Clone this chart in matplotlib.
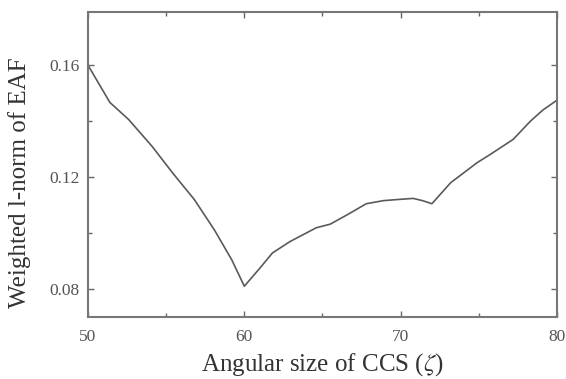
import matplotlib
matplotlib.use("Agg")
import matplotlib.pyplot as plt
from matplotlib.ticker import MultipleLocator, FixedLocator

plt.rcParams['font.family'] = ['Liberation Serif', 'DejaVu Serif']
plt.rcParams['mathtext.fontset'] = 'stix'

# Data
zeta = [50.0, 51.4, 52.6, 54.1, 55.4, 56.8, 58.1, 59.2, 60.0, 61.0, 61.8, 62.9,
        64.6, 65.5, 66.6, 67.8, 68.9, 69.8, 70.8, 71.4, 72.0, 73.2, 74.9,
        75.7, 77.2, 78.3, 79.1, 80.0]
norm = [0.160, 0.1467, 0.1406, 0.131, 0.1216, 0.112, 0.101, 0.0904, 0.0810,
        0.0875, 0.0929, 0.0969, 0.1019, 0.1032, 0.1066, 0.1105, 0.1116, 0.1120,
        0.1124, 0.1116, 0.1105, 0.118, 0.1252, 0.128, 0.1335, 0.1400, 0.1440,
        0.1475]

xticks_major = [50, 60, 70, 80]
yticks_major = [0.08, 0.12, 0.16]
ytick_labels = ["0.08", "0.12", "0.16"]

fig = plt.figure(figsize=(5.66, 3.79), dpi=100)
ax = fig.add_axes([0.1555, 0.1636, 0.8285, 0.8044])

ax.plot(zeta, norm, color='#5a5a5a', lw=1.2)

ax.set_xlim(50, 80)
ax.set_ylim(0.07, 0.179)
ax.set_xticks(xticks_major)
ax.set_xticklabels([str(v) for v in xticks_major])
ax.xaxis.set_minor_locator(MultipleLocator(5))
ax.set_yticks(yticks_major)
ax.set_yticklabels(ytick_labels)
ax.yaxis.set_minor_locator(FixedLocator([0.10, 0.14]))

ax.tick_params(which='both', direction='in', top=True, right=True,
               color='#666666', labelcolor='#555555', labelsize=12.5)
ax.tick_params(which='major', length=4, width=1.0)
ax.tick_params(axis='x', which='major', pad=9)
ax.tick_params(axis='y', which='major', pad=6)
ax.tick_params(which='minor', length=3, width=1.0)

for s in ax.spines.values():
    s.set_color('#777777')
    s.set_linewidth(1.5)

ax.set_xlabel(r"Angular size of CCS ($\zeta$)", fontsize=18, color='#333333')
ax.set_ylabel("Weighted l-norm of EAF", fontsize=18, color='#333333')
ax.xaxis.set_label_coords(0.5, -0.112)
ax.yaxis.set_label_coords(-0.121, 0.44)

fig.savefig("out.png", dpi=100)
